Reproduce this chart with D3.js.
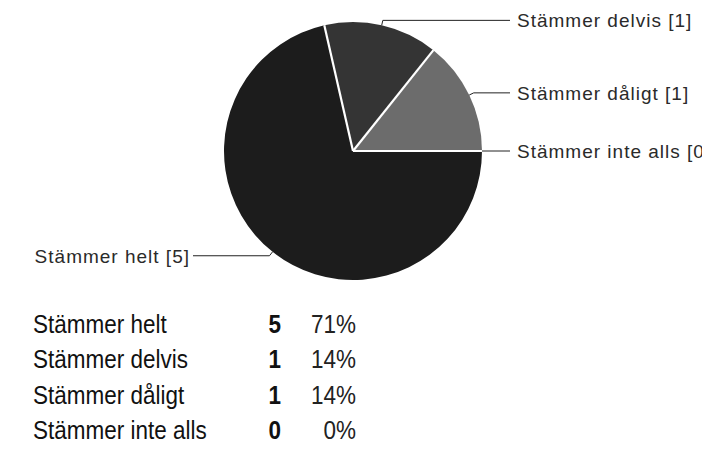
<!DOCTYPE html>
<html>
<head>
<meta charset="utf-8">
<script src="https://cdn.jsdelivr.net/npm/d3@7"></script>
<style>
  html, body { margin: 0; padding: 0; background: #fff; }
  svg { display: block; }
</style>
</head>
<body>
<svg id="chart" width="702" height="450"></svg>
<script>
// data
const categories = ["Stämmer helt", "Stämmer delvis", "Stämmer dåligt", "Stämmer inte alls"];
const counts = [5, 1, 1, 0];
const percents = ["71%", "14%", "14%", "0%"];
const sliceColors = ["#1c1c1c", "#343434", "#6c6c6c", "#9a9a9a"];

const W = 702, H = 450;
const cx = 353, cy = 151, R = 129;
const font = "'Liberation Sans', Arial, sans-serif";

const svg = d3.select("#chart");
const rows = categories.map((c, i) => ({ name: c, n: counts[i], pct: percents[i], color: sliceColors[i] }));

const pie = d3.pie().value(d => d.n).sort(null)
  .startAngle(Math.PI / 2).endAngle(Math.PI / 2 + 2 * Math.PI);
const arcs = pie(rows);
const arc = d3.arc().innerRadius(0).outerRadius(R);

const g = svg.append("g").attr("transform", `translate(${cx},${cy})`);

g.selectAll("path.slice").data(arcs.filter(d => d.data.n > 0)).join("path")
  .attr("class", "slice")
  .attr("d", arc)
  .attr("fill", d => d.data.color);

// white separators
g.selectAll("line.sep").data(arcs).join("line")
  .attr("x1", 0).attr("y1", 0)
  .attr("x2", d => R * Math.sin(d.startAngle))
  .attr("y2", d => -R * Math.cos(d.startAngle))
  .attr("stroke", "#fff").attr("stroke-width", 2.2);

// leader lines + labels (the scan cuts the last one at the right edge)
const pt = (a, r) => [r * Math.sin(a), -r * Math.cos(a)];
const lab = svg.append("g");
arcs.forEach(d => {
  const mid = (d.startAngle + d.endAngle) / 2;
  const right = Math.sin(mid) >= 0;
  const [x0, y0] = pt(mid, R);
  const [x1, y1] = pt(mid, R + 5);
  const xe = right ? 510 - cx : 193 - cx;
  lab.append("polyline")
    .attr("points", [[cx + x0, cy + y0], [cx + x1, cy + y1], [cx + xe, cy + y1]].map(p => p.join(",")).join(" "))
    .attr("fill", "none").attr("stroke", "#222").attr("stroke-width", 1);
  lab.append("text")
    .attr("x", right ? 517 : 190).attr("y", cy + y1 + 7)
    .attr("text-anchor", right ? "start" : "end")
    .attr("font-family", font).attr("font-size", 19)
    .attr("letter-spacing", 1)
    .attr("fill", "#2a2a2a")
    .text(`${d.data.name} [${d.data.n}]`);
});

// summary table (scan is a bit stretched vertically)
const tbl = svg.append("g").attr("font-family", font).attr("font-size", 22.5).attr("fill", "#111");
const y = d3.scalePoint().domain(categories).range([333, 439]);
const put = (x) => d => `translate(${x},${y(d.name)}) scale(1,1.12)`;
tbl.selectAll("text.name").data(rows).join("text")
  .attr("transform", put(33)).text(d => d.name);
tbl.selectAll("text.n").data(rows).join("text")
  .attr("transform", put(281)).attr("text-anchor", "end")
  .attr("font-weight", "bold").text(d => d.n);
tbl.selectAll("text.pct").data(rows).join("text")
  .attr("transform", put(356)).attr("text-anchor", "end")
  .attr("fill", "#222").text(d => d.pct);
</script>
</body>
</html>
